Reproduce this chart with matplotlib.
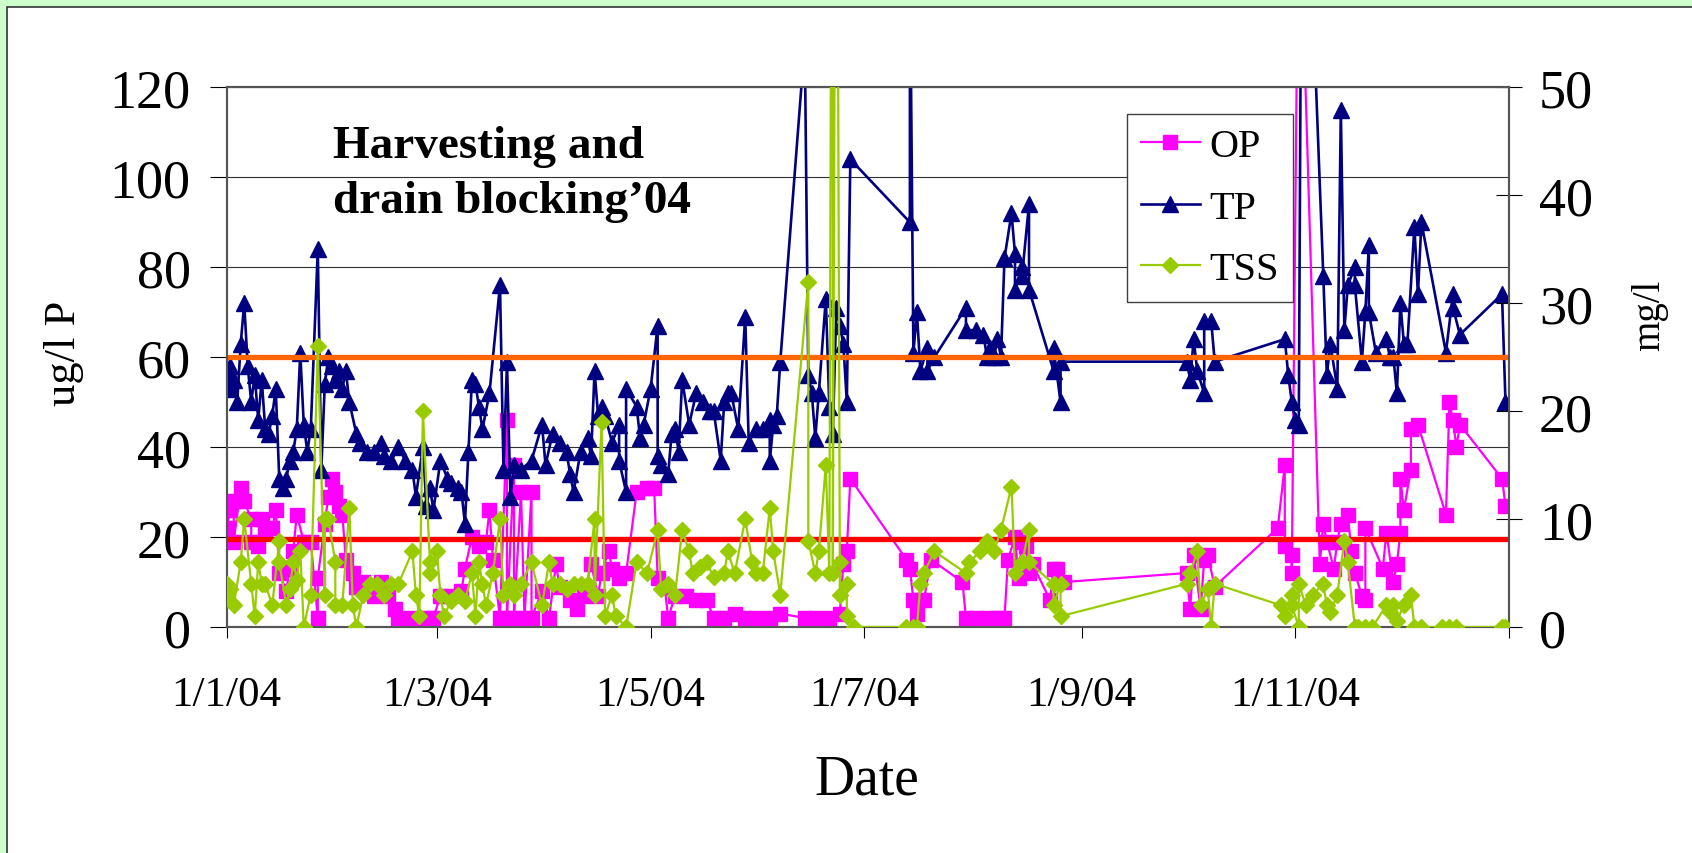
import numpy as np
import matplotlib.pyplot as plt
from matplotlib.patches import Rectangle

plt.rcParams['font.family'] = ['Liberation Serif', 'DejaVu Serif']

# days counted from 1/1/04
op_day = [0, 1, 2, 2, 4, 5, 7, 7, 9, 10, 11, 13, 14, 15, 17, 18, 19, 20, 22, 24,
          26, 26, 28, 29, 30, 31, 32, 33, 34, 36, 37, 39, 40, 42, 44, 46, 48, 49, 53, 57,
          59, 61, 64, 67, 68, 70, 72, 74, 75, 76, 78, 80, 80, 82, 82, 84, 85, 87, 87, 90,
          92, 94, 95, 98, 100, 102, 104, 106, 107, 109, 110, 112, 114, 117, 120, 122, 123, 125, 126, 128,
          131, 134, 137, 139, 142, 145, 148, 151, 155, 158, 165, 168, 172, 175, 176, 177, 178, 194, 195, 196,
          197, 198, 199, 201, 210, 211, 214, 217, 220, 222, 223, 225, 226, 227, 228, 229, 230, 235, 236, 237,
          239, 274, 275, 276, 278, 279, 280, 282, 300, 302, 302, 304, 304, 306, 312, 313, 314, 316, 317, 318,
          320, 321, 322, 324, 325, 325, 330, 331, 333, 334, 335, 335, 336, 338, 338, 340, 348, 349, 350, 351,
          352, 364, 365]
op_val = [22, 26, 28, 19, 31, 28, 24, 19, 18, 24, 21, 22, 26, 12, 8, 13, 17, 25, 19, 19,
          2, 11, 23, 29, 33, 30, 27, 25, 15, 12, 9, 10, 8, 7, 10, 7, 4, 2, 2, 2,
          2, 7, 7, 8, 13, 20, 18, 19, 26, 15, 2, 46, 2, 36, 2, 30, 2, 30, 2, 8,
          2, 14, 9, 6, 4, 7, 14, 7, 12, 17, 13, 11, 12, 30, 31, 31, 11, 9, 2, 7,
          7, 6, 6, 2, 2, 3, 2, 2, 2, 3, 2, 2, 2, 3, 14, 17, 33, 15, 13, 6,
          3, 6, 6, 15, 10, 2, 2, 2, 2, 2, 15, 20, 11, 19, 18, 12, 14, 6, 13, 13,
          10, 12, 4, 16, 4, 15, 16, 9, 22, 36, 18, 16, 12, 170, 14, 23, 19, 13, 19, 23,
          25, 17, 12, 7, 6, 22, 13, 21, 10, 14, 21, 33, 26, 35, 44, 45, 25, 50, 46, 40,
          45, 33, 27]

tp_day = [0, 1, 1, 2, 3, 4, 5, 6, 7, 8, 9, 10, 11, 12, 13, 14, 15, 16, 17, 18,
          19, 20, 21, 22, 23, 24, 26, 27, 28, 29, 30, 31, 32, 33, 34, 35, 37, 38, 40, 42,
          44, 45, 47, 49, 51, 53, 54, 56, 57, 58, 59, 61, 63, 64, 66, 67, 68, 69, 70, 71,
          72, 73, 75, 78, 79, 80, 81, 82, 84, 87, 90, 91, 93, 95, 97, 98, 99, 101, 103, 104,
          105, 106, 107, 108, 110, 112, 112, 114, 114, 117, 118, 119, 121, 123, 123, 124, 126, 127, 128, 129,
          130, 132, 134, 136, 138, 139, 141, 142, 143, 144, 146, 148, 149, 151, 153, 155, 155, 156, 157, 158,
          165, 166, 167, 168, 169, 171, 172, 173, 174, 175, 176, 177, 178, 195, 195, 196, 197, 198, 200, 200,
          202, 211, 211, 214, 216, 217, 218, 219, 220, 221, 222, 224, 225, 225, 227, 227, 229, 229, 236, 236,
          238, 238, 274, 275, 276, 277, 279, 279, 281, 282, 302, 303, 304, 305, 306, 307, 313, 314, 315, 317,
          318, 319, 320, 322, 322, 324, 325, 326, 326, 328, 331, 332, 333, 334, 335, 336, 337, 339, 340, 341,
          348, 350, 350, 352, 364, 365]
tp_val = [56, 53, 58, 55, 50, 63, 72, 58, 50, 56, 46, 55, 44, 43, 47, 53, 33, 31, 33, 37,
          39, 44, 61, 45, 39, 44, 84, 35, 54, 60, 58, 55, 57, 53, 57, 50, 43, 41, 39, 39,
          41, 38, 37, 40, 37, 35, 29, 40, 27, 31, 26, 37, 33, 32, 31, 30, 23, 39, 55, 54,
          49, 44, 52, 76, 35, 59, 29, 36, 35, 37, 45, 36, 43, 41, 39, 34, 30, 39, 42, 38,
          57, 47, 49, 47, 41, 45, 37, 30, 53, 49, 42, 45, 53, 67, 38, 36, 34, 43, 44, 39,
          55, 45, 52, 50, 48, 48, 37, 50, 52, 52, 44, 69, 41, 44, 44, 46, 37, 45, 47, 59,
          130, 56, 52, 42, 52, 73, 49, 43, 71, 67, 63, 50, 104, 90, 150, 61, 70, 57, 62, 57,
          60, 71, 66, 66, 65, 60, 62, 60, 64, 60, 82, 92, 83, 75, 80, 78, 94, 75, 57, 62,
          50, 59, 59, 55, 64, 57, 52, 68, 68, 59, 64, 56, 50, 46, 45, 200, 78, 56, 63, 53,
          115, 66, 76, 80, 76, 59, 70, 85, 70, 61, 64, 60, 60, 52, 72, 63, 63, 89, 74, 90,
          61, 74, 71, 65, 74, 50]

tss_day = [0, 0, 1, 2, 4, 5, 7, 8, 9, 10, 11, 13, 15, 15, 17, 18, 19, 20, 21, 22,
           24, 26, 28, 28, 29, 31, 31, 33, 35, 36, 37, 39, 41, 43, 45, 47, 49, 53, 54, 55,
           56, 58, 58, 60, 61, 62, 64, 66, 68, 70, 71, 72, 73, 74, 76, 78, 79, 81, 82, 84,
           87, 90, 92, 93, 95, 97, 99, 101, 103, 105, 105, 107, 108, 110, 111, 114, 117, 120, 123, 124,
           126, 128, 130, 132, 133, 135, 137, 139, 142, 143, 145, 148, 150, 151, 153, 155, 156, 158, 166, 166,
           168, 169, 171, 172, 173, 173, 174, 175, 175, 177, 177, 179, 194, 196, 197, 198, 199, 202, 211, 212,
           215, 217, 219, 221, 224, 225, 227, 229, 229, 236, 236, 238, 238, 274, 275, 277, 278, 280, 281, 282,
           301, 302, 304, 304, 306, 306, 308, 310, 313, 314, 315, 317, 319, 320, 322, 323, 325, 327, 331, 332,
           333, 334, 336, 338, 339, 341, 347, 349, 351, 364, 365]
tss_val = [3, 4, 3.5, 2, 6, 10, 4, 1, 6, 4, 4, 2, 8, 6, 2, 3.5, 6, 4.4, 7, 0,
           3, 26, 3, 10, 10, 6, 2, 2, 11, 2, 0, 3, 4, 4, 3, 4, 4, 7, 3, 1,
           20, 6, 5, 7, 3, 1, 2.4, 3, 2.4, 5, 1, 6, 4, 2, 5, 10, 3, 4, 3, 4,
           6, 2, 6, 4, 4, 3.5, 4, 4, 4, 10, 3, 19, 1, 3, 1, 0, 6, 5, 9, 3.5,
           4, 3, 9, 7, 5, 5.6, 6, 4.6, 5, 7, 5, 10, 6, 5, 5, 11, 7, 3, 32, 8,
           5, 7, 15, 5, 110, 5, 100, 6, 3, 4, 1, 0, 0, 0, 0, 4, 5, 7, 5, 6,
           7, 8, 7, 9, 13, 5, 6, 9, 6, 4, 2, 4, 1, 4, 5, 7, 2, 3.5, 0, 4,
           2, 1, 3, 2, 0, 4, 2, 3, 4, 2, 1.4, 3, 8, 6, 0, 0, 0, 0, 2, 1.4,
           2, 0.6, 2, 3, 0, 0, 0, 0, 0, 0, 0]

orange_level = 60
red_level = 19.5

tick_days = [0, 60, 121, 182, 244, 305, 366]
tick_labels = ['1/1/04', '1/3/04', '1/5/04', '1/7/04', '1/9/04', '1/11/04', '']

start = np.datetime64('2004-01-01')


def to_dates(days):
    return start + np.array(days, dtype='timedelta64[D]')


W, H = 1692, 854
fig = plt.figure(figsize=(W / 100, H / 100), dpi=100)
fig.patch.set_facecolor('#CCFFCC')
fig.add_artist(Rectangle((7 / W, -0.05), 1.1, 1.05 - 8 / H, transform=fig.transFigure,
                         facecolor='white', edgecolor='#333333', lw=1.2, zorder=0))

ax = fig.add_axes([226.7 / W, 1 - 628 / H, (1509 - 226.7) / W, (628 - 88.3) / H])
ax.set_facecolor('white')

op_line, = ax.plot(to_dates(op_day), op_val, color='#FF00FF', marker='s', ms=10.5,
                   mec='#FF00FF', lw=1.6, label='OP', zorder=3)
tp_line, = ax.plot(to_dates(tp_day), tp_val, color='#000080', marker='^', ms=12,
                   mec='#000080', lw=1.9, label='TP', zorder=4)
ax.axhline(orange_level, color='#FF6600', lw=3.8, zorder=5)
ax.axhline(red_level, color='#FF0000', lw=3.8, zorder=5)

ax.set_ylim(0, 120)
ax.set_yticks(range(0, 121, 20))
ax.set_xlim(start, start + np.timedelta64(366, 'D'))
ax.set_xticks(to_dates(tick_days))
ax.set_xticklabels(tick_labels)
ax.grid(axis='y', color='#303030', lw=0.8)
ax.set_axisbelow(True)
ax.tick_params(axis='y', direction='out', length=12, width=0.8, pad=14, labelsize=39)
ax.tick_params(axis='x', direction='out', length=8, width=0.8, pad=27, labelsize=31)

ax2 = ax.twinx()
tss_line, = ax2.plot(to_dates(tss_day), tss_val, color='#99CC00', marker='D', ms=8,
                     mec='#99CC00', lw=1.6, label='TSS', zorder=3)
ax2.set_ylim(0, 50)
ax2.set_yticks(range(0, 51, 10))
ax2.tick_params(axis='y', direction='inout', length=19, width=0.8, pad=12, labelsize=39)

for a in (ax, ax2):
    for s in a.spines.values():
        s.set_color('#555555')
        s.set_linewidth(1.5)

fig.text(64 / W, 1 - 353 / H, 'ug/l P', rotation=90, ha='center', va='center', fontsize=32)
fig.text(1650 / W, 1 - 315 / H, 'mg/l', rotation=90, ha='center', va='center', fontsize=28)
fig.text(867 / W, 1 - 781 / H, 'Date', ha='center', va='center', fontsize=40)

fig.text(333 / W, 1 - 158 / H, 'Harvesting and', fontweight='bold', fontsize=34, va='baseline')
fig.text(333 / W, 1 - 213 / H, 'drain blocking\u201904', fontweight='bold', fontsize=34, va='baseline')

leg = ax2.legend([op_line, tp_line, tss_line], ['OP', 'TP', 'TSS'],
                 loc='upper left', bbox_to_anchor=(1127 / W, 1 - 115 / H),
                 bbox_transform=fig.transFigure, fontsize=29, frameon=True,
                 fancybox=False, borderpad=0.35, labelspacing=0.6,
                 handlelength=1.45, handletextpad=0.25, borderaxespad=0)
leg.get_frame().set_edgecolor('#404040')
leg.get_frame().set_linewidth(1.0)
leg.get_frame().set_alpha(1)

fig.savefig('out.png', dpi=100, facecolor=fig.get_facecolor())
